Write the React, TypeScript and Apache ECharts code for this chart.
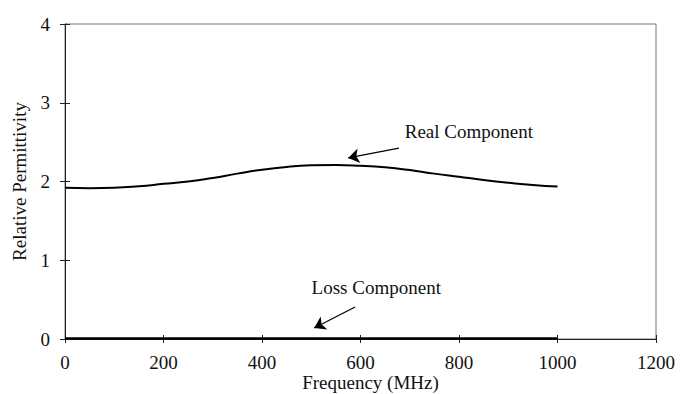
import React, { useEffect, useRef } from "react";
import * as echarts from "echarts";

const frequencies = [0, 50, 100, 150, 200, 250, 300, 350, 400, 450, 500, 550, 600, 650, 700, 750, 800, 850, 900, 950, 1000];
const realComponent = [1.92, 1.915, 1.92, 1.94, 1.97, 2.0, 2.045, 2.1, 2.15, 2.185, 2.205, 2.21, 2.2, 2.18, 2.145, 2.1, 2.06, 2.02, 1.985, 1.955, 1.935];
const lossComponent = [0.005, 0.005, 0.005, 0.005, 0.005, 0.005, 0.005, 0.005, 0.005, 0.005, 0.005, 0.005, 0.005, 0.005, 0.005, 0.005, 0.005, 0.005, 0.005, 0.005, 0.005];
const xTicks = { min: 0, max: 1200, interval: 200 };
const yTicks = { min: 0, max: 4, interval: 1 };
const realLabel = "Real Component";
const lossLabel = "Loss Component";
// annotation anchors in data units
const realArrow = [[678, 2.425], [575, 2.3]];
const realText = [820, 2.64];
const lossArrow = [[589, 0.406], [506, 0.14]];
const lossText = [632, 0.66];

const FONT = "'Liberation Serif', 'Times New Roman', serif";

export default function App() {
  const ref = useRef<HTMLDivElement>(null);
  useEffect(() => {
    if (!ref.current) return;
    const chart = echarts.init(ref.current, null, { renderer: "svg" });
    const pairs = (vals: number[]) => frequencies.map((f, i) => [f, vals[i]]);
    const labelStyle = { fontFamily: FONT, fontSize: 19, color: "#111" };
    const plain = (v: number) => String(v);
    chart.setOption({
      animation: false,
      backgroundColor: "#fff",
      grid: {
        left: 65, right: 31, top: 24, bottom: 55, containLabel: false, outerBoundsMode: "none",
        show: true, borderColor: "#777", borderWidth: 1, backgroundColor: "transparent",
      },
      xAxis: [
        {
          type: "value", min: xTicks.min, max: xTicks.max, interval: xTicks.interval, position: "bottom",
          axisLine: { show: true, onZero: false, lineStyle: { color: "#222", width: 1 } },
          axisTick: { show: true, inside: false, length: 4, lineStyle: { color: "#222" } },
          splitLine: { show: false },
          axisLabel: { ...labelStyle, margin: 14, formatter: plain },
          name: "Frequency (MHz)", nameLocation: "middle", nameGap: 34, nameMoveOverlap: false,
          nameTextStyle: { ...labelStyle, lineHeight: 19, padding: [0, 0, 0, 20] },
        },
        {
          type: "value", min: xTicks.min, max: xTicks.max, interval: xTicks.interval, position: "bottom",
          axisLine: { show: false, onZero: false },
          axisTick: { show: true, inside: true, length: 4, lineStyle: { color: "#222" } },
          splitLine: { show: false }, axisLabel: { show: false },
        },
      ],
      yAxis: [
        {
          type: "value", min: yTicks.min, max: yTicks.max, interval: yTicks.interval, position: "left",
          axisLine: { show: true, onZero: false, lineStyle: { color: "#222", width: 1 } },
          axisTick: { show: true, inside: false, length: 5, lineStyle: { color: "#222" } },
          splitLine: { show: false },
          axisLabel: { ...labelStyle, margin: 15, padding: [0, 0, 8, 0], formatter: plain },
          name: "Relative Permittivity", nameLocation: "middle", nameGap: 36, nameMoveOverlap: false,
          nameTextStyle: labelStyle,
        },
        {
          type: "value", min: yTicks.min, max: yTicks.max, interval: yTicks.interval, position: "left",
          axisLine: { show: false, onZero: false },
          axisTick: { show: true, inside: true, length: 5, lineStyle: { color: "#222" } },
          splitLine: { show: false }, axisLabel: { show: false },
        },
      ],
      series: [
        {
          name: realLabel, type: "line", data: pairs(realComponent), smooth: true, showSymbol: false,
          lineStyle: { color: "#000", width: 2 },
          markLine: {
            silent: true, symbol: ["none", "arrow"], symbolSize: 11,
            lineStyle: { color: "#000", width: 1.3, type: "solid" }, label: { show: false },
            data: [[{ coord: realArrow[0] }, { coord: realArrow[1] }]],
          },
          markPoint: {
            silent: true, symbol: "circle", symbolSize: 0,
            label: { show: true, position: "inside", formatter: realLabel, ...labelStyle },
            data: [{ coord: realText }],
          },
        },
        {
          name: lossLabel, type: "line", data: pairs(lossComponent), showSymbol: false,
          lineStyle: { color: "#000", width: 2.5 },
          markLine: {
            silent: true, symbol: ["none", "arrow"], symbolSize: 11,
            lineStyle: { color: "#000", width: 1.3, type: "solid" }, label: { show: false },
            data: [[{ coord: lossArrow[0] }, { coord: lossArrow[1] }]],
          },
          markPoint: {
            silent: true, symbol: "circle", symbolSize: 0,
            label: { show: true, position: "inside", formatter: lossLabel, ...labelStyle },
            data: [{ coord: lossText }],
          },
        },
      ],
    });
    return () => chart.dispose();
  }, []);
  return <div ref={ref} style={{ width: 687, height: 394, position: "fixed", left: 0, top: 0 }} />;
}
